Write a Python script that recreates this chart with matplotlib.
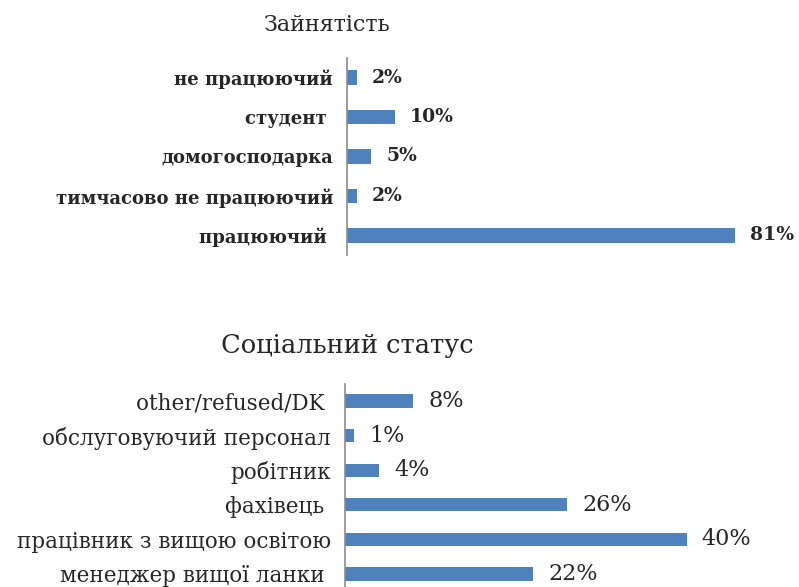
import matplotlib
matplotlib.use('Agg')
import matplotlib.pyplot as plt

# Зайнятість (bottom -> top)
emp_labels = ['працюючий ', 'тимчасово не працюючий', 'домогосподарка', 'студент ', 'не працюючий']
emp_values = [81, 2, 5, 10, 2]

# Соціальний статус (bottom -> top)
soc_labels = ['менеджер вищої ланки ', 'працівник з вищою освітою', 'фахівець ', 'робітник',
              'обслуговуючий персонал', 'other/refused/DK ']
soc_values = [22, 40, 26, 4, 1, 8]

bar_color = '#4F81BD'
text_color = '#262626'
font = 'DejaVu Serif'

fig = plt.figure(figsize=(7.99, 5.87), dpi=100)
fig.patch.set_facecolor('white')


def draw(ax, labels, values, xmax, bar_h, lab_size, val_size, weight):
    y = list(range(len(values)))
    ax.barh(y, values, height=bar_h, color=bar_color)
    ax.set_xlim(0, xmax)
    ax.set_ylim(-0.5, len(values) - 0.5)
    ax.set_yticks(y)
    ax.set_yticklabels(labels, fontsize=lab_size, family=font, color=text_color, fontweight=weight)
    ax.tick_params(axis='y', length=0, pad=10)
    ax.set_xticks([])
    for s in ['top', 'right', 'bottom']:
        ax.spines[s].set_visible(False)
    ax.spines['left'].set_color('#8c8c8c')
    ax.spines['left'].set_linewidth(1.2)
    ax.patch.set_alpha(0)
    for yi, v in zip(y, values):
        ax.annotate('%d%%' % v, xy=(v, yi), xytext=(11, 0), textcoords='offset points',
                    va='center', ha='left', fontsize=val_size, family=font,
                    color=text_color, fontweight=weight)


ax1 = fig.add_axes([0.4343, 0.5656, 0.5394, 0.3356])
draw(ax1, emp_labels, emp_values, 90, 0.37, 13, 13.5, 'bold')

ax2 = fig.add_axes([0.4318, -0.0073, 0.5344, 0.3537])
draw(ax2, soc_labels, soc_values, 50, 0.38, 15.5, 16, 'normal')

fig.text(327 / 799, 1 - 25 / 587, 'Зайнятість', ha='center', va='center',
         fontsize=16, family=font, color=text_color)
fig.text(347 / 799, 1 - 345 / 587, 'Соціальний статус', ha='center', va='center',
         fontsize=18.5, family=font, color=text_color)

fig.savefig('out.png', dpi=100)
